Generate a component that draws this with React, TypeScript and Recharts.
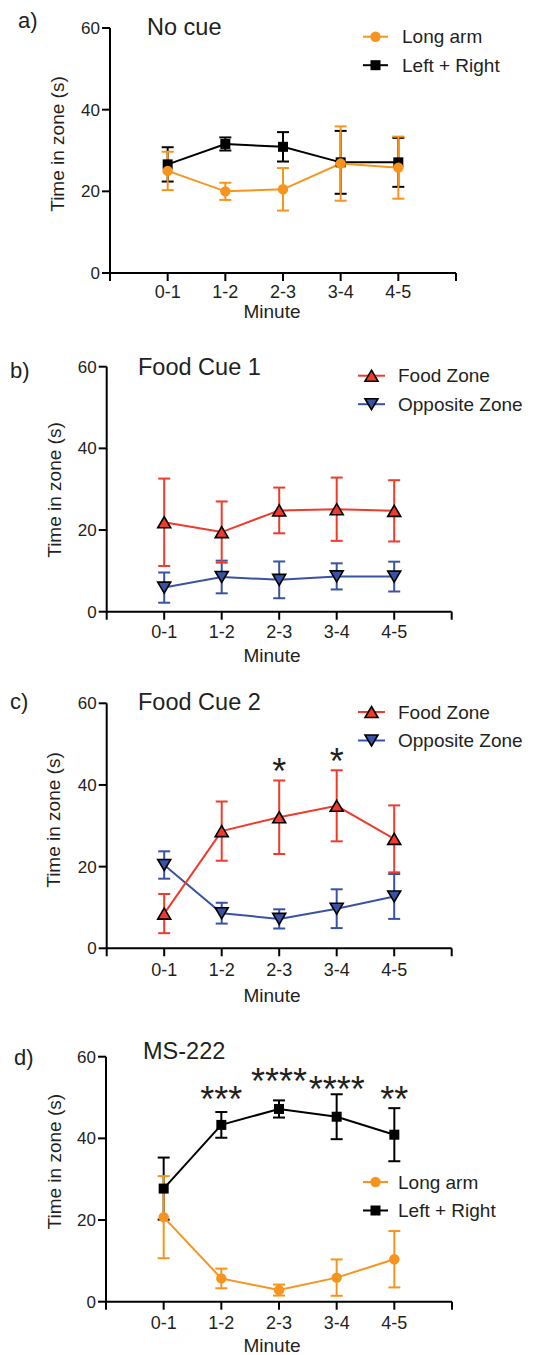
import React from 'react';
import { LineChart, Line, XAxis, YAxis, ErrorBar, ReferenceDot } from 'recharts';

const minutes = ['0-1', '1-2', '2-3', '3-4', '4-5'];
const yTicks = [0, 20, 40, 60];

// a) No cue
const noCueLong = [25.0, 20.0, 20.5, 26.8, 25.8];
const noCueLongErr = [4.7, 2.1, 5.2, 9.1, 7.6];
const noCueLR = [26.6, 31.6, 30.9, 27.1, 27.1];
const noCueLRErr = [4.2, 1.6, 3.6, 7.7, 6.0];

// b) Food Cue 1
const cue1Food = [21.9, 19.5, 24.8, 25.1, 24.7];
const cue1FoodErr = [10.7, 7.5, 5.6, 7.75, 7.5];
const cue1Opp = [5.9, 8.5, 7.8, 8.65, 8.6];
const cue1OppErr = [3.7, 4.0, 4.5, 3.2, 3.65];

// c) Food Cue 2
const cue2Food = [8.5, 28.7, 32.1, 34.9, 26.8];
const cue2FoodErr = [4.8, 7.25, 9.0, 8.7, 8.2];
const cue2Opp = [20.4, 8.6, 7.2, 9.7, 12.7];
const cue2OppErr = [3.35, 2.55, 2.35, 4.75, 5.5];
const cue2Stars = ['', '', '*', '*', ''];
const cue2StarY = [0, 0, 43.4, 45.8, 0];

// d) MS-222
const msLong = [20.7, 5.7, 2.85, 5.9, 10.4];
const msLongErr = [10.05, 2.4, 1.35, 4.45, 6.9];
const msLR = [27.7, 43.3, 47.2, 45.3, 40.9];
const msLRErr = [7.6, 3.15, 2.1, 5.5, 6.5];
const msStars = ['', '***', '****', '****', '**'];
const msStarY = [0, 49.7, 54.0, 52.0, 49.5];

const ORANGE = '#F7941D';
const RED = '#EF3B2C';
const BLUE = '#3953A4';
const TEXT = '#231F20';
const FONT = '"Liberation Sans", Arial, sans-serif';

type Shape = 'circle' | 'square' | 'up' | 'down';

interface Series {
  key: string;
  name: string;
  color: string;
  shape: Shape;
  values: number[];
  errors: number[];
}

const Marker = ({ cx, cy, shape, color }: { cx: number; cy: number; shape: Shape; color: string }) => {
  if (cx == null || cy == null) return null;
  if (shape === 'circle') return <circle cx={cx} cy={cy} r={5.2} fill={color} />;
  if (shape === 'square') return <rect x={cx - 5} y={cy - 5} width={10} height={10} fill={color} />;
  const h = 11;
  const w = 6.5;
  const pts =
    shape === 'up'
      ? `${cx},${cy - h / 2} ${cx + w},${cy + h / 2} ${cx - w},${cy + h / 2}`
      : `${cx},${cy + h / 2} ${cx + w},${cy - h / 2} ${cx - w},${cy - h / 2}`;
  return <polygon points={pts} fill={color} stroke="#000" strokeWidth={1.6} strokeLinejoin="miter" />;
};

interface PanelProps {
  top: number;
  height: number;
  margin: { top: number; left: number; right: number; bottom: number };
  tickMargin: number;
  letter: string;
  letterPos: [number, number];
  title: string;
  titlePos: [number, number];
  yLabelPos: [number, number];
  xLabelY: number;
  legendY: number;
  legendX: [number, number, number];
  series: Series[]; // drawn in this order
  legendOrder: number[];
  stars?: string[];
  starY?: number[];
}

const Panel = (p: PanelProps) => {
  const data = minutes.map((m, i) => {
    const row: Record<string, number | string> = { x: i + 1, label: m };
    p.series.forEach((s) => {
      row[s.key] = s.values[i];
      row[s.key + 'Err'] = s.errors[i];
    });
    return row;
  });

  return (
    <div style={{ position: 'absolute', left: 0, top: p.top, width: 556, height: p.height }}>
      <LineChart width={556} height={p.height} data={data} margin={p.margin}>
        <XAxis
          type="number"
          dataKey="x"
          domain={[0, 6]}
          ticks={[0, 1, 2, 3, 4, 5, 6]}
          interval={0}
          tickFormatter={(v: number) => minutes[v - 1] ?? ''}
          height={40}
          tickSize={8}
          tickMargin={p.tickMargin}
          axisLine={{ stroke: '#000', strokeWidth: 2 }}
          tickLine={{ stroke: '#000', strokeWidth: 2 }}
          tick={{ fontSize: 18, fill: TEXT, fontFamily: FONT }}
        />
        <YAxis
          type="number"
          domain={[0, 60]}
          ticks={yTicks}
          interval={0}
          width={60}
          tickSize={8}
          tickMargin={2}
          axisLine={{ stroke: '#000', strokeWidth: 2 }}
          tickLine={{ stroke: '#000', strokeWidth: 2 }}
          tick={{ fontSize: 17, fill: TEXT, fontFamily: FONT }}
        />
        {p.series.map((s) => (
          <Line
            key={s.key}
            type="linear"
            dataKey={s.key}
            name={s.name}
            stroke={s.color}
            strokeWidth={2}
            isAnimationActive={false}
            activeDot={false}
            dot={(props: any) => (
              <Marker key={`${s.key}-${props.index}`} cx={props.cx} cy={props.cy} shape={s.shape} color={s.color} />
            )}
          >
            <ErrorBar dataKey={s.key + 'Err'} direction="y" width={6} stroke={s.color} strokeWidth={2} />
          </Line>
        ))}
        {(p.stars || []).map((t, i) =>
          t ? (
            <ReferenceDot
              key={`star-${i}`}
              x={i + 1}
              y={p.starY![i]}
              r={0}
              fill="none"
              stroke="none"
              label={{ value: t, position: 'center', fontSize: 36, fill: TEXT, fontFamily: FONT, letterSpacing: 0 }}
            />
          ) : null
        )}
      </LineChart>
      <svg
        width={556}
        height={p.height}
        style={{ position: 'absolute', left: 0, top: 0, pointerEvents: 'none', fontFamily: FONT }}
      >
        <text x={p.letterPos[0]} y={p.letterPos[1]} fontSize={22} fill={TEXT}>
          {p.letter}
        </text>
        <text x={p.titlePos[0]} y={p.titlePos[1]} fontSize={23.5} fill={TEXT}>
          {p.title}
        </text>
        <text
          x={p.yLabelPos[0]}
          y={p.yLabelPos[1]}
          fontSize={19}
          fill={TEXT}
          textAnchor="middle"
          transform={`rotate(-90 ${p.yLabelPos[0]} ${p.yLabelPos[1]})`}
        >
          Time in zone (s)
        </text>
        <text x={272} y={p.xLabelY} fontSize={19} fill={TEXT} textAnchor="middle">
          Minute
        </text>
        {p.legendOrder.map((idx, row) => {
          const s = p.series[idx];
          const cy = p.legendY + row * 28.5;
          const [x1, x2, tx] = p.legendX;
          return (
            <g key={s.key}>
              <line x1={x1} y1={cy} x2={x2} y2={cy} stroke={s.color} strokeWidth={2} />
              <Marker cx={(x1 + x2) / 2} cy={cy} shape={s.shape} color={s.color} />
              <text x={tx} y={cy + 6.5} fontSize={19} fill={TEXT}>
                {s.name}
              </text>
            </g>
          );
        })}
      </svg>
    </div>
  );
};

const longArm = (values: number[], errors: number[]): Series => ({
  key: 'long',
  name: 'Long arm',
  color: ORANGE,
  shape: 'circle',
  values,
  errors,
});
const leftRight = (values: number[], errors: number[]): Series => ({
  key: 'lr',
  name: 'Left + Right',
  color: '#000',
  shape: 'square',
  values,
  errors,
});
const foodZone = (values: number[], errors: number[]): Series => ({
  key: 'food',
  name: 'Food Zone',
  color: RED,
  shape: 'up',
  values,
  errors,
});
const oppZone = (values: number[], errors: number[]): Series => ({
  key: 'opp',
  name: 'Opposite Zone',
  color: BLUE,
  shape: 'down',
  values,
  errors,
});

export default function App() {
  return (
    <div style={{ position: 'absolute', left: 0, top: 0, width: 556, height: 1355, background: '#fff' }}>
      <Panel
        top={0}
        height={330}
        margin={{ top: 28, left: 50, right: 100, bottom: 17 }}
        tickMargin={4}
        letter="a)"
        letterPos={[18, 28]}
        title="No cue"
        titlePos={[147, 35]}
        yLabelPos={[64, 144]}
        xLabelY={318}
        legendY={36.7}
        legendX={[363, 388, 402]}
        series={[leftRight(noCueLR, noCueLRErr), longArm(noCueLong, noCueLongErr)]}
        legendOrder={[1, 0]}
      />
      <Panel
        top={330}
        height={340}
        margin={{ top: 36.7, left: 46.7, right: 104.3, bottom: 18.3 }}
        tickMargin={5.7}
        letter="b)"
        letterPos={[10, 47.5]}
        title="Food Cue 1"
        titlePos={[138, 45]}
        yLabelPos={[61, 160]}
        xLabelY={332}
        legendY={45.7}
        legendX={[358, 385, 398]}
        series={[oppZone(cue1Opp, cue1OppErr), foodZone(cue1Food, cue1FoodErr)]}
        legendOrder={[1, 0]}
      />
      <Panel
        top={670}
        height={340}
        margin={{ top: 33.3, left: 46.7, right: 104.3, bottom: 21.7 }}
        tickMargin={7}
        letter="c)"
        letterPos={[10, 39]}
        title="Food Cue 2"
        titlePos={[138, 40]}
        yLabelPos={[59.5, 150]}
        xLabelY={331.7}
        legendY={42}
        legendX={[358, 385, 398]}
        series={[oppZone(cue2Opp, cue2OppErr), foodZone(cue2Food, cue2FoodErr)]}
        legendOrder={[1, 0]}
        stars={cue2Stars}
        starY={cue2StarY}
      />
      <Panel
        top={1010}
        height={345}
        margin={{ top: 46.7, left: 46, right: 104, bottom: 13.3 }}
        tickMargin={7}
        letter="d)"
        letterPos={[14, 55]}
        title="MS-222"
        titlePos={[143, 49.3]}
        yLabelPos={[61, 151.7]}
        xLabelY={342}
        legendY={172}
        legendX={[363, 388, 398]}
        series={[leftRight(msLR, msLRErr), longArm(msLong, msLongErr)]}
        legendOrder={[1, 0]}
        stars={msStars}
        starY={msStarY}
      />
    </div>
  );
}
